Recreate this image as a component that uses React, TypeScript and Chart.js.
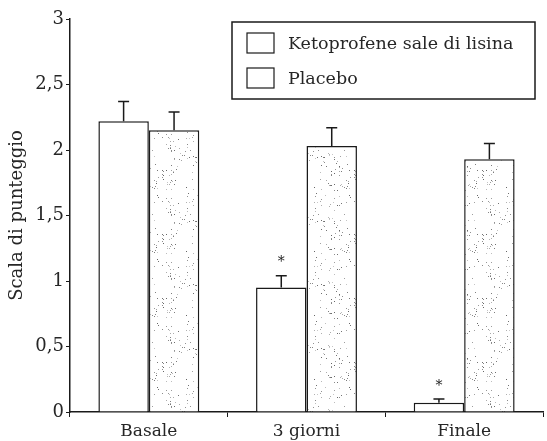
import { useEffect, useRef } from 'react';
import { Chart, registerables } from 'chart.js';

Chart.register(...registerables);

const categories = ['Basale', '3 giorni', 'Finale'];
const seriesNames = ['Ketoprofene sale di lisina', 'Placebo'];
const ketoValues = [2.22, 0.95, 0.07];
const ketoErrors = [0.15, 0.09, 0.03];
const placeboValues = [2.15, 2.03, 1.93];
const placeboErrors = [0.14, 0.14, 0.12];
const ketoSignificant = [false, true, true];
const yTickValues = [0, 0.5, 1, 1.5, 2, 2.5, 3];
const yTitle = 'Scala di punteggio';

const FONT = "'DejaVu Serif', 'Liberation Serif', serif";
const INK = '#1a1a1a';
const TEXT = '#262626';

function makeStipple(): CanvasPattern | string {
  const c = document.createElement('canvas');
  c.width = 64;
  c.height = 64;
  const g = c.getContext('2d');
  if (!g) return '#eee';
  g.fillStyle = '#ffffff';
  g.fillRect(0, 0, 64, 64);
  let s = 987654321;
  const rnd = () => {
    s = (Math.imul(s, 1103515245) + 12345) >>> 0;
    return (s >>> 8) / 16777216;
  };
  for (let i = 0; i < 130; i++) {
    const shade = 100 + Math.floor(rnd() * 100);
    g.fillStyle = `rgb(${shade},${shade},${shade})`;
    g.fillRect(Math.floor(rnd() * 64), Math.floor(rnd() * 64), 1, 1);
  }
  const p = g.createPattern(c, 'repeat');
  return p || '#eee';
}

const errorBarsPlugin = {
  id: 'errorBars',
  afterDatasetsDraw(chart: any) {
    const ctx = chart.ctx;
    const yScale = chart.scales.y;
    ctx.save();
    ctx.strokeStyle = INK;
    ctx.lineWidth = 1.5;
    chart.data.datasets.forEach((ds: any, di: number) => {
      const meta = chart.getDatasetMeta(di);
      meta.data.forEach((bar: any, i: number) => {
        const v = ds.data[i];
        const e = ds.errors[i];
        const yTop = yScale.getPixelForValue(v + e);
        ctx.beginPath();
        ctx.moveTo(bar.x, bar.y);
        ctx.lineTo(bar.x, yTop);
        ctx.moveTo(bar.x - 5.5, yTop);
        ctx.lineTo(bar.x + 5.5, yTop);
        ctx.stroke();
        if (ds.significant && ds.significant[i]) {
          ctx.fillStyle = TEXT;
          ctx.font = `14px ${FONT}`;
          ctx.textAlign = 'center';
          ctx.textBaseline = 'middle';
          ctx.fillText('*', bar.x, yTop - 13);
        }
      });
    });
    ctx.restore();
  },
};

const boxLegendPlugin = {
  id: 'boxLegend',
  afterDraw(chart: any) {
    const ctx = chart.ctx;
    const area = chart.chartArea;
    const left = area.right - 311;
    const top = area.top + 3;
    const w = 303;
    const h = 77;
    ctx.save();
    ctx.fillStyle = '#ffffff';
    ctx.fillRect(left, top, w, h);
    ctx.strokeStyle = INK;
    ctx.lineWidth = 1.5;
    ctx.strokeRect(left, top, w, h);
    ctx.font = `17.5px ${FONT}`;
    ctx.textAlign = 'left';
    ctx.textBaseline = 'middle';
    seriesNames.forEach((name, i) => {
      const cy = top + 21 + i * 35;
      ctx.fillStyle = '#ffffff';
      ctx.fillRect(left + 15, cy - 10, 27, 20);
      ctx.lineWidth = 1.2;
      ctx.strokeRect(left + 15, cy - 10, 27, 20);
      ctx.fillStyle = TEXT;
      ctx.fillText(name, left + 56, cy + 1);
    });
    ctx.restore();
  },
};

export default function App() {
  const ref = useRef<HTMLCanvasElement | null>(null);

  useEffect(() => {
    document.body.style.margin = '0';
    const canvas = ref.current;
    if (!canvas) return;
    const stipple = makeStipple();
    const chart = new Chart(canvas, {
      type: 'bar',
      data: {
        labels: categories,
        datasets: [
          {
            label: seriesNames[0],
            data: ketoValues,
            errors: ketoErrors,
            significant: ketoSignificant,
            backgroundColor: '#ffffff',
            borderColor: INK,
            borderWidth: 1.5,
            categoryPercentage: 0.64,
            barPercentage: 1,
          } as any,
          {
            label: seriesNames[1],
            data: placeboValues,
            errors: placeboErrors,
            backgroundColor: stipple,
            borderColor: INK,
            borderWidth: 1.5,
            categoryPercentage: 0.64,
            barPercentage: 1,
          } as any,
        ],
      },
      options: {
        responsive: false,
        maintainAspectRatio: false,
        animation: false,
        layout: { padding: { top: 19, right: 4, left: 0, bottom: 0 } },
        plugins: {
          legend: { display: false },
          tooltip: { enabled: false },
        },
        scales: {
          x: {
            grid: {
              offset: true,
              drawOnChartArea: false,
              drawTicks: true,
              tickLength: 5,
              color: INK,
              lineWidth: 1,
            },
            border: { display: true, color: INK, width: 1.5 },
            ticks: {
              color: TEXT,
              font: { family: FONT, size: 17 },
              padding: 4,
            },
            afterFit: (scale: any) => {
              scale.height = 29;
            },
          },
          y: {
            min: 0,
            max: 3,
            afterBuildTicks: (scale: any) => {
              scale.ticks = yTickValues.map((v) => ({ value: v }));
            },
            grid: {
              drawOnChartArea: false,
              tickLength: 4,
              color: INK,
              lineWidth: 1,
            },
            border: { display: true, color: INK, width: 1.5 },
            ticks: {
              color: TEXT,
              font: { family: FONT, size: 18 },
              padding: 2,
              callback: (v: any) => String(v).replace('.', ','),
            },
            title: {
              display: true,
              text: yTitle,
              color: TEXT,
              font: { family: FONT, size: 18 },
              padding: { top: 7, bottom: 0 },
            },
            afterFit: (scale: any) => {
              scale.width = 70;
            },
          },
        },
      },
      plugins: [errorBarsPlugin, boxLegendPlugin],
    });
    return () => chart.destroy();
  }, []);

  return (
    <div style={{ width: 547, height: 441, background: '#fff' }}>
      <canvas ref={ref} width={547} height={441} style={{ display: 'block' }} />
    </div>
  );
}
